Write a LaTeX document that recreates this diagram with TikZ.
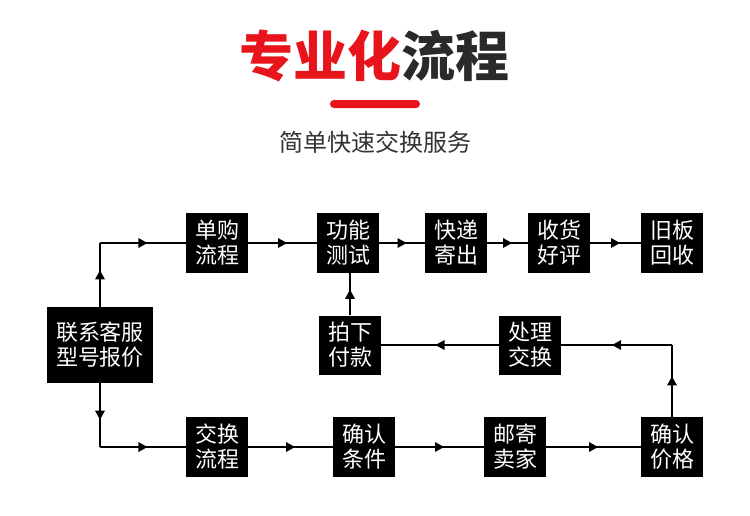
\documentclass[tikz,border=0pt]{standalone}
\usepackage{fontspec}
\setmainfont{Noto Sans CJK SC}
\usetikzlibrary{arrows.meta,decorations.markings}
\definecolor{titlered}{HTML}{E8141B}
\definecolor{titledark}{HTML}{2A2A2A}
\definecolor{subgray}{HTML}{333333}
\begin{document}
\begin{tikzpicture}[x=1pt,y=-1pt,
  stepbox/.style={fill=black,text=white,minimum width=62pt,minimum height=60pt,inner sep=0pt,align=center,font=\fontsize{22}{25}\selectfont},
  link/.style={draw=black,line width=1.2pt,postaction={decorate},
    decoration={markings,mark=at position 0.5 with {\fill[black] (-4.5pt,-5pt) -- (4.5pt,0pt) -- (-4.5pt,5pt) -- cycle;}}}]
\useasboundingbox[fill=white] (0,0) rectangle (750,515);

% title
\node[inner sep=0pt,font=\fontsize{54}{54}\bfseries\selectfont] (title) at (374,56) {\textcolor{titlered}{专业化}\textcolor{titledark}{流程}};
\node[fill=titlered,rounded corners=4pt,minimum width=90pt,minimum height=8pt,inner sep=0pt] (bar) at (375,104) {};
\node[inner sep=0pt,text=subgray,font=\fontsize{24}{24}\selectfont] (sub) at (375,142) {简单快速交换服务};

% boxes
\node[stepbox,minimum width=106pt,minimum height=76pt] (lx) at (100,345) {联系客服\\型号报价};
\node[stepbox] (dg) at (217,243) {单购\\流程};
\node[stepbox] (gn) at (348,243) {功能\\测试};
\node[stepbox] (kd) at (456,243) {快递\\寄出};
\node[stepbox] (sh) at (559,243) {收货\\好评};
\node[stepbox] (jb) at (672,243) {旧板\\回收};
\node[stepbox,minimum height=59pt] (px) at (350,345) {拍下\\付款};
\node[stepbox,minimum height=59pt] (cl) at (530,345) {处理\\交换};
\node[stepbox] (jh) at (217,447) {交换\\流程};
\node[stepbox] (qt) at (364,447) {确认\\条件};
\node[stepbox] (yj) at (515,447) {邮寄\\卖家};
\node[stepbox] (qj) at (672,447) {确认\\价格};

% connectors
\coordinate (c1) at (lx.north |- dg.west);
\draw[link] (lx.north) -- (c1);
\draw[link] (c1) -- (dg.west);
\draw[link] (dg.east) -- (gn.west);
\draw[link] (gn.east) -- (kd.west);
\draw[link] (kd.east) -- (sh.west);
\draw[link] (sh.east) -- (jb.west);
\draw[link] (px.north) -- (px.north |- gn.south);
\draw[link] (cl.west) -- (px.east);
\coordinate (c2) at (qj.north |- cl.east);
\draw[link] (qj.north) -- (c2);
\draw[link] (c2) -- (cl.east);
\coordinate (c3) at (lx.south |- jh.west);
\draw[link] (lx.south) -- (c3);
\draw[link] (c3) -- (jh.west);
\draw[link] (jh.east) -- (qt.west);
\draw[link] (qt.east) -- (yj.west);
\draw[link] (yj.east) -- (qj.west);
\end{tikzpicture}
\end{document}
